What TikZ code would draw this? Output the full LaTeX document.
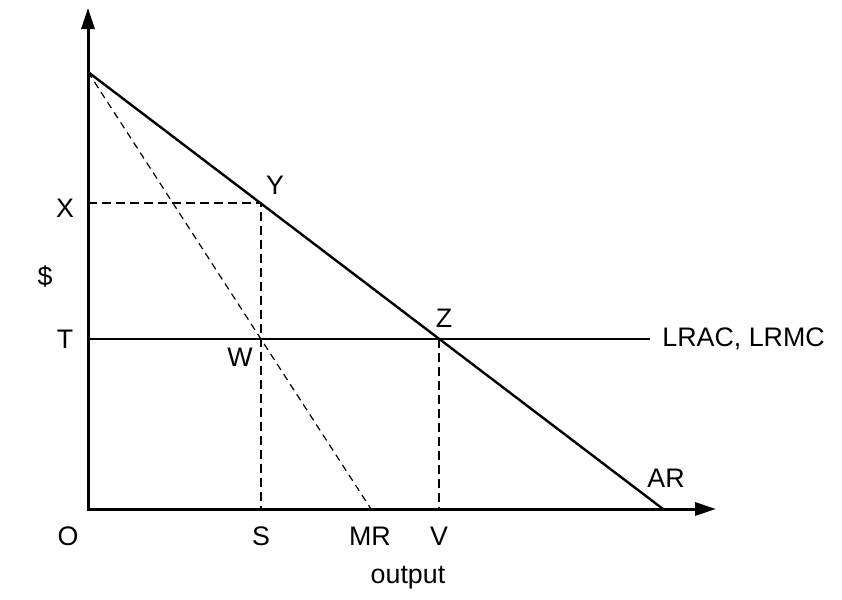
\documentclass[tikz,border=0pt]{standalone}
\usepackage{fontspec}
\setmainfont{Liberation Sans}
\usetikzlibrary{arrows.meta,positioning,calc}

\begin{document}
\begin{tikzpicture}[x=0.5pt,y=-0.5pt,
  axisline/.style={line width=1.5pt,-{Triangle[length=10.5pt,width=6.5pt]}},
  curveline/.style={line width=1.2pt},
  guide/.style={line width=0.6pt,dash pattern=on 4.5pt off 2.5pt},
  lbl/.style={font=\fontsize{13.4}{15}\selectfont,inner sep=1pt}]
\useasboundingbox (0,0) rectangle (842,600);
% points of the diagram
\coordinate (O) at (88,509);
\coordinate (ytop) at (88,8);
\coordinate (xend) at (716,509);
\coordinate (A) at (88,72);
\coordinate (Y) at (261,203);
\coordinate (Z) at (439,339);
\coordinate (W) at (261,339);
\coordinate (S) at (261,509);
\coordinate (V) at (439,509);
\coordinate (MRend) at (371,509);
\coordinate (ARend) at (663,509);
\coordinate (X) at (88,203);
\coordinate (T) at (88,339);
\coordinate (Tend) at (650,339);
% axes
\draw[axisline] ($(O)+(0,0.75)$) -- (ytop);
\draw[axisline] ($(O)+(-0.75,0)$) -- (xend);
% demand and cost
\draw[curveline] (A) -- (ARend);
\draw[curveline] (T) -- (Tend);
\draw[guide,dash pattern=on 3.5pt off 2.5pt] (A) -- (MRend);
% dashed guides
\draw[guide] (X) -- (Y) -- (S);
\draw[guide] (Z) -- (V);
% labels
\node[lbl] (labX) at (65,208) {X};
\node[lbl] (labT) at (65,339) {T};
\node[lbl] (labD) at (45,277) {\$};
\node[lbl] (labO) at (68,536) {O};
\node[lbl] (labS) at (261,536) {S};
\node[lbl] (labMR) at (370,536) {MR};
\node[lbl] (labV) at (439,536) {V};
\node[lbl] (labout) at (408,578) {output};
\node[lbl] (labAR) at (666,478) {AR};
\node[lbl,right] (labLR) at (660,339) {LRAC, LRMC};
\node[lbl] (labY) at (275,185) {Y};
\node[lbl] (labZ) at (444,318) {Z};
\node[lbl] (labW) at (240,357) {W};
\end{tikzpicture}
\end{document}
